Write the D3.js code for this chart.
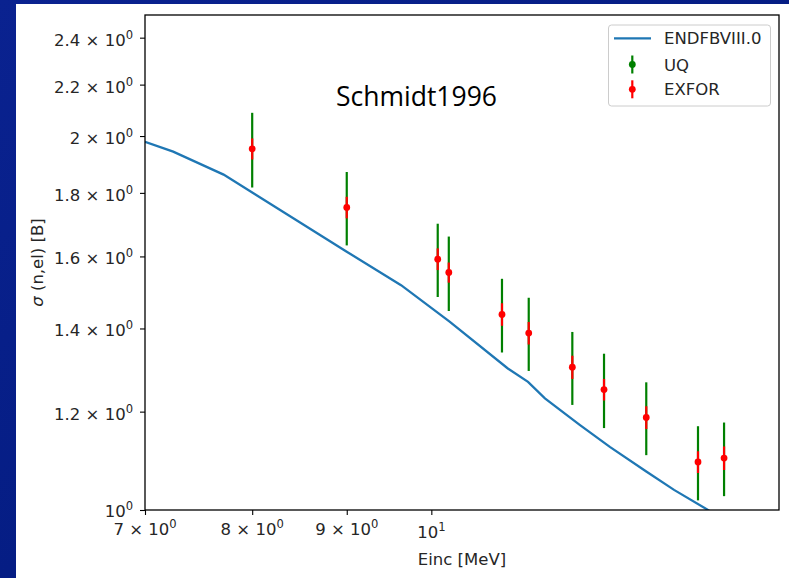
<!DOCTYPE html>
<html>
<head>
<meta charset="utf-8">
<script src="https://cdn.jsdelivr.net/npm/d3@7"></script>
<style>
  html, body { margin: 0; padding: 0; background: #001a80; }
  svg { display: block; }
</style>
</head>
<body>
<div id="mainDiv"></div>
<script>
// Values
let energies = [8.0, 9.0, 10.08, 10.22, 10.92, 11.29, 11.92, 12.40, 13.07, 13.94, 14.40];
let sigmaValues = [1.953, 1.752, 1.592, 1.553, 1.437, 1.388, 1.303, 1.250, 1.187, 1.093, 1.101];
let uqErrors = [0.135, 0.119, 0.108, 0.107, 0.098, 0.094, 0.088, 0.086, 0.080, 0.075, 0.075];
let exforErrors = [0.038, 0.035, 0.032, 0.029, 0.030, 0.029, 0.028, 0.025, 0.025, 0.022, 0.024];

let endfEnergies = [7.0, 7.25, 7.72, 9.0, 9.63, 10.23, 11.0, 11.28, 11.52, 12.03, 12.49, 13.07, 13.53, 14.10, 14.4];
let endfSigma = [1.979, 1.943, 1.862, 1.614, 1.517, 1.418, 1.300, 1.268, 1.230, 1.171, 1.124, 1.074, 1.038, 1.001, 0.98];

let xTicks = [7, 8, 9, 10];
let xTickLabels = [["7 × 10", "0"], ["8 × 10", "0"], ["9 × 10", "0"], ["10", "1"]];
let yTicks = [1, 1.2, 1.4, 1.6, 1.8, 2.0, 2.2, 2.4];
let yTickLabels = [["10", "0"], ["1.2 × 10", "0"], ["1.4 × 10", "0"], ["1.6 × 10", "0"],
  ["1.8 × 10", "0"], ["2 × 10", "0"], ["2.2 × 10", "0"], ["2.4 × 10", "0"]];

let legendNames = ["ENDFBVIII.0", "UQ", "EXFOR"];
let titleText = "Schmidt1996";

let chartSize = {
  width: 789, height: 578,
  margin: { top: 15, right: 10, bottom: 68, left: 145 }
};
let font = "DejaVu Sans, sans-serif";
let fontSize = 16.5;
let colors = { endf: "#1f77b4", uq: "green", exfor: "red" };

createChart();

function createChart() {
  let x0 = chartSize.margin.left;
  let x1 = chartSize.width - chartSize.margin.right;
  let y0 = chartSize.height - chartSize.margin.bottom;
  let y1 = chartSize.margin.top;

  let x = d3.scaleLog().domain([7, 15.42]).range([x0, x1]);
  let y = d3.scaleLog().domain([1, 2.503]).range([y0, y1]);

  const svg = d3.select("#mainDiv")
    .append("svg")
    .attr("width", chartSize.width)
    .attr("height", chartSize.height);

  // slide background
  let defs = svg.append("defs");
  let grad = defs.append("linearGradient").attr("id", "bg")
    .attr("x1", "0").attr("y1", "0").attr("x2", "1").attr("y2", "1");
  grad.append("stop").attr("offset", "0").attr("stop-color", "#0a2290");
  grad.append("stop").attr("offset", "1").attr("stop-color", "#001878");
  svg.append("rect").attr("width", chartSize.width).attr("height", chartSize.height)
    .attr("fill", "url(#bg)");
  svg.append("rect").attr("x", 16).attr("y", 4)
    .attr("width", chartSize.width - 16).attr("height", chartSize.height - 4)
    .attr("fill", "white");

  defs.append("clipPath").attr("id", "plotClip")
    .append("rect").attr("x", x0).attr("y", y1)
    .attr("width", x1 - x0).attr("height", y0 - y1);

  // ENDF line
  let line = d3.line()
    .x((d, i) => x(endfEnergies[i]))
    .y(d => y(d));
  svg.append("path")
    .datum(endfSigma)
    .attr("clip-path", "url(#plotClip)")
    .attr("fill", "none")
    .attr("stroke", colors.endf)
    .attr("stroke-width", 2.3)
    .attr("d", line);

  // UQ error bars
  let points = energies.map((e, i) => ({ e: e, s: sigmaValues[i], uq: uqErrors[i], ex: exforErrors[i] }));
  let marks = svg.append("g").attr("clip-path", "url(#plotClip)");
  marks.selectAll("line.uq")
    .data(points)
    .join("line")
    .attr("class", "uq")
    .attr("x1", d => x(d.e)).attr("x2", d => x(d.e))
    .attr("y1", d => y(d.s - d.uq)).attr("y2", d => y(d.s + d.uq))
    .attr("stroke", colors.uq)
    .attr("stroke-width", 2.2);

  // EXFOR error bars
  marks.selectAll("line.ex")
    .data(points)
    .join("line")
    .attr("class", "ex")
    .attr("x1", d => x(d.e)).attr("x2", d => x(d.e))
    .attr("y1", d => y(d.s - d.ex)).attr("y2", d => y(d.s + d.ex))
    .attr("stroke", colors.exfor)
    .attr("stroke-width", 2.2);

  marks.selectAll("circle")
    .data(points)
    .join("circle")
    .attr("cx", d => x(d.e))
    .attr("cy", d => y(d.s))
    .attr("r", 3.4)
    .attr("fill", colors.exfor);

  // axes
  let xAxis = g => g
    .attr("transform", `translate(0,${y0})`)
    .call(d3.axisBottom(x).tickValues(xTicks).tickFormat("").tickSizeOuter(0).tickSize(5))
    .call(g => g.select(".domain").remove())
    .call(g => g.selectAll(".tick line").attr("stroke-width", 1.1));

  let yAxis = g => g
    .attr("transform", `translate(${x0},0)`)
    .call(d3.axisLeft(y).tickValues(yTicks).tickFormat("").tickSizeOuter(0).tickSize(5))
    .call(g => g.select(".domain").remove())
    .call(g => g.selectAll(".tick line").attr("stroke-width", 1.1));

  svg.append("g").call(xAxis);
  svg.append("g").call(yAxis);

  // tick labels with superscripts
  xTicks.forEach((v, i) => {
    let t = svg.append("text")
      .attr("x", x(v))
      .attr("y", y0 + 24.5 + (i === 3 ? 3 : 0))
      .attr("text-anchor", "middle")
      .attr("font-family", font)
      .attr("font-size", fontSize)
      .attr("fill", "#262626");
    t.append("tspan").text(xTickLabels[i][0]);
    t.append("tspan").attr("dy", -7).attr("font-size", fontSize * 0.7).text(xTickLabels[i][1]);
  });
  yTicks.forEach((v, i) => {
    let t = svg.append("text")
      .attr("x", x0 - 12)
      .attr("y", y(v) + (i === 0 ? 7 : 8))
      .attr("text-anchor", "end")
      .attr("font-family", font)
      .attr("font-size", fontSize)
      .attr("fill", "#262626");
    t.append("tspan").text(yTickLabels[i][0]);
    t.append("tspan").attr("dy", -7).attr("font-size", fontSize * 0.7).text(yTickLabels[i][1]);
  });

  // frame
  svg.append("rect")
    .attr("x", x0).attr("y", y1)
    .attr("width", x1 - x0).attr("height", y0 - y1)
    .attr("fill", "none")
    .attr("stroke", "black")
    .attr("stroke-width", 1.3);

  // axis titles
  svg.append("text")
    .attr("x", (x0 + x1) / 2)
    .attr("y", 565)
    .attr("text-anchor", "middle")
    .attr("font-family", font)
    .attr("font-size", fontSize)
    .attr("fill", "#262626")
    .text("Einc [MeV]");

  let yTitle = svg.append("text")
    .attr("transform", `translate(43,${(y0 + y1) / 2}) rotate(-90)`)
    .attr("text-anchor", "middle")
    .attr("font-family", font)
    .attr("font-size", fontSize)
    .attr("fill", "#262626");
  yTitle.append("tspan").attr("font-style", "italic").text("σ");
  yTitle.append("tspan").text(" (n,el) [B]");

  // annotation
  svg.append("text")
    .attr("x", 336)
    .attr("y", 106)
    .attr("font-family", "Open Sans, sans-serif")
    .attr("font-size", 26.5)
    .attr("fill", "black")
    .text(titleText);

  // legend
  let legend = svg.append("g");
  legend.append("rect")
    .attr("x", 608.5).attr("y", 25)
    .attr("width", 162).attr("height", 81)
    .attr("rx", 3)
    .attr("fill", "white")
    .attr("fill-opacity", 0.8)
    .attr("stroke", "#cccccc");
  let rowY = [38.3, 64.5, 89.3];
  legend.append("line")
    .attr("x1", 614).attr("x2", 651)
    .attr("y1", rowY[0]).attr("y2", rowY[0])
    .attr("stroke", colors.endf).attr("stroke-width", 2.3);
  [colors.uq, colors.exfor].forEach((c, i) => {
    let ry = rowY[i + 1];
    legend.append("line")
      .attr("x1", 632.3).attr("x2", 632.3)
      .attr("y1", ry - 9).attr("y2", ry + 9)
      .attr("stroke", c).attr("stroke-width", 2.2);
    legend.append("circle")
      .attr("cx", 632.3).attr("cy", ry).attr("r", 3.4).attr("fill", c);
  });
  legendNames.forEach((name, i) => {
    legend.append("text")
      .attr("x", 664)
      .attr("y", rowY[i] + 6)
      .attr("font-family", font)
      .attr("font-size", fontSize)
      .attr("fill", "#262626")
      .text(name);
  });
}
</script>
</body>
</html>
